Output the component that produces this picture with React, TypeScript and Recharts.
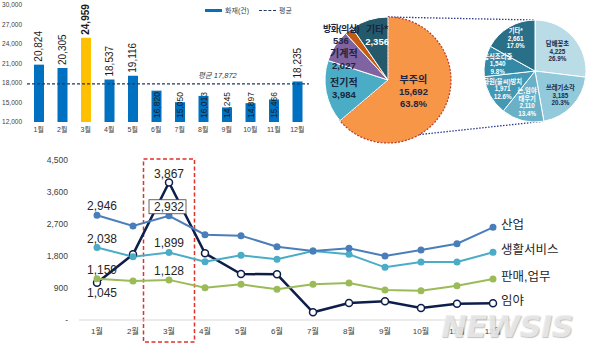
import React from 'react';
import {
  BarChart, Bar, Cell, XAxis, YAxis, ReferenceLine, LabelList,
  PieChart, Pie, LineChart, Line, ReferenceArea,
} from 'recharts';

const FONT = "'Liberation Sans', 'Noto Sans CJK KR', sans-serif";

// monthly fires (bar chart)
const months = ['1월', '2월', '3월', '4월', '5월', '6월', '7월', '8월', '9월', '10월', '11월', '12월'];
const fires = [20824, 20305, 24959, 18537, 19116, 16820, 15050, 16013, 14245, 14897, 15466, 18235];
const avgFires = 17872;
const peakMonth = '3월';
const fireTicks = [12000, 15000, 18000, 21000, 24000, 27000, 30000];

// causes (big pie) and breakdown of 부주의 (small pie)
const causeNames = ['부주의', '전기적', '기계적', '방화(의심)', '기타*'];
const causeValues = [15692, 3984, 2027, 536, 2356];
const carelessNames = ['담배꽁초', '쓰레기소각', '논,임야 태우기', '화원(불씨)방치', '음식조리중', '기타*'];
const carelessValues = [4225, 3185, 2110, 1971, 1540, 2661];

// fires by place (line chart)
const industry = [2946, 2644, 2932, 2400, 2372, 2060, 1940, 2015, 1800, 1969, 2147, 2606];
const living = [2038, 1781, 1899, 1641, 1819, 1706, 1940, 1847, 1481, 1631, 1631, 1903];
const sales = [1159, 1097, 1128, 909, 1003, 862, 1003, 1040, 844, 825, 966, 1153];
const forest = [1045, 1847, 3867, 1875, 1294, 1284, 216, 478, 525, 337, 459, 469];
const lineTicks = [0, 900, 1800, 2700, 3600, 4500];

const barData = months.map((m, i) => ({ month: m, fires: fires[i] }));
const causeData = causeNames.map((n, i) => ({ name: n, value: causeValues[i] }));
const carelessData = carelessNames.map((n, i) => ({ name: n, value: carelessValues[i] }));
const lineData = months.map((m, i) => ({
  month: m, industry: industry[i], living: living[i], sales: sales[i], forest: forest[i],
}));

const fmt = (v: number) => Number(v).toLocaleString('en-US');
const RAD = Math.PI / 180;

// pie geometry / styling
const pie1 = { cx: 98, cy: 80, r: 63 };
const pie2 = { cx: 245, cy: 71, r: 51 };
const causeColors = ['#F79646', '#4BACC6', '#8064A2', '#C55A11', '#23596B'];
const causeLabelR = [28, 45, 49, 58, 47];
const causeLabelDx = [0, 0, -3, -11, 3];
const causeLabelDy = [0, 0, 6, 0, 0];
const causeValueFill = ['#1c2540', '#1c2540', '#1c2540', '#1c2540', '#ffffff'];
const carelessColors = ['#B9DCE6', '#93CADB', '#6AB1C8', '#4398B4', '#3489A6', '#286F87'];
const carelessLabelR = [30, 35, 32, 37, 38, 38];
const carelessFill = ['#1c2a48', '#1c2a48', '#ffffff', '#ffffff', '#ffffff', '#ffffff'];

const onCircle = (p: { cx: number; cy: number; r: number }, deg: number) => ({
  x: p.cx + p.r * Math.sin(deg * RAD),
  y: p.cy - p.r * Math.cos(deg * RAD),
});

const renderFireLabel = (p: any) => {
  const { x, y, width, height, value, index } = p;
  const cx = x + width / 2;
  const above = value > avgFires;
  const ty = above ? y - 3 : y + height - 4;
  return (
    <text x={cx} y={ty} transform={`rotate(-90 ${cx} ${ty})`} textAnchor="start" dominantBaseline="central"
      fontSize={above ? 10 : 8.5} fontWeight={months[index] === peakMonth ? 'bold' : 'normal'}
      fill="#1b1b1b" fontFamily={FONT}>
      {fmt(value)}
    </text>
  );
};

const AvgLabel = (p: any) => {
  const vb = p.viewBox;
  if (!vb) return null;
  return (
    <text x={vb.x + vb.width * 0.675} y={vb.y - 6} textAnchor="middle" fontSize={7.5} fontStyle="italic"
      fill="#333" fontFamily={FONT}>
      평균 {fmt(avgFires)}
    </text>
  );
};

const renderCauseLabel = (p: any) => {
  const { cx, cy, midAngle, index, value, percent } = p;
  const r = causeLabelR[index];
  const x = cx + r * Math.cos(-midAngle * RAD) + causeLabelDx[index];
  const y = cy + r * Math.sin(-midAngle * RAD) + causeLabelDy[index];
  const lines = [causeNames[index], fmt(value)];
  if (index === 0) lines.push((percent * 100).toFixed(1) + '%');
  const lh = 12;
  const y0 = y - ((lines.length - 1) * lh) / 2;
  const small = index === 3;
  return (
    <g>
      {lines.map((l, i) => (
        <text key={i} x={x} y={y0 + i * lh} textAnchor="middle" dominantBaseline="central" fontWeight="bold"
          fontSize={i === 0 ? (small ? 9 : 10) : 9.5} letterSpacing={small && i === 0 ? -0.5 : 0}
          fill={i === 0 ? '#1c2540' : causeValueFill[index]} fontFamily={FONT}>
          {l}
        </text>
      ))}
    </g>
  );
};

const renderCarelessLabel = (p: any) => {
  const { cx, cy, midAngle, index, value, percent } = p;
  const r = carelessLabelR[index];
  const x = cx + r * Math.cos(-midAngle * RAD);
  const y = cy + r * Math.sin(-midAngle * RAD);
  const lines = [...carelessNames[index].split(' '), fmt(value), (percent * 100).toFixed(1) + '%'];
  const lh = 7.5;
  const y0 = y - ((lines.length - 1) * lh) / 2;
  return (
    <g>
      {lines.map((l, i) => (
        <text key={i} x={x} y={y0 + i * lh} textAnchor="middle" dominantBaseline="central" fontWeight="bold"
          fontSize={6.3} fill={carelessFill[index]} fontFamily={FONT}>
          {l}
        </text>
      ))}
    </g>
  );
};

const pointLabel = (name: string, firstBelow: boolean, boxed: boolean) => (p: any) => {
  const { x, y, value, index } = p;
  if (index === months.length - 1) {
    return (
      <text x={x + 8} y={y - 2} dominantBaseline="central" fontSize={12.5} fill="#262626" fontFamily={FONT}>
        {name}
      </text>
    );
  }
  if (index !== 0 && index !== 2) return null;
  const tx = index === 0 ? x + 5 : x;
  const ty = index === 0 && firstBelow ? y + 10 : y - 9;
  const text = (
    <text x={tx} y={ty} textAnchor="middle" dominantBaseline="central" fontSize={12} fill="#262626" fontFamily={FONT}>
      {fmt(value)}
    </text>
  );
  if (boxed && index === 2) {
    return (
      <g>
        <rect x={tx - 20} y={ty - 7} width={37} height={14} fill="#fff" stroke="#404040" strokeWidth={0.8} />
        {text}
      </g>
    );
  }
  return text;
};

const PeakBox = (p: any) => (
  <rect x={p.x + p.width / 2 - 25.5} y={p.y - 1} width={51} height={p.height + 23}
    fill="none" stroke="#E0312B" strokeWidth={1.5} strokeDasharray="4 2.5" />
);

export default function App() {
  const t1 = onCircle(pie1, 0);
  const t2 = onCircle(pie2, 0);
  const b1 = onCircle(pie1, 150);
  const b2 = onCircle(pie2, 170);
  return (
    <div style={{ position: 'absolute', left: 0, top: 0, width: 591, height: 353, background: '#fff', fontFamily: FONT, overflow: 'hidden' }}>
      <div style={{ position: 'absolute', left: 0, top: 0 }}>
        <BarChart width={312} height={140} data={barData} margin={{ top: 5, right: 3, left: 0, bottom: 0 }}>
          <XAxis dataKey="month" height={18} axisLine={false} tickLine={false} tickSize={0} tickMargin={5}
            tick={{ fontSize: 7, fill: '#404040', fontFamily: FONT }} interval={0} />
          <YAxis width={27} domain={[12000, 30000]} ticks={fireTicks} axisLine={false} tickLine={false}
            tickSize={0} tickMargin={5} tickFormatter={fmt} tick={{ fontSize: 6.5, fill: '#404040', fontFamily: FONT }} />
          <Bar dataKey="fires" barSize={10} isAnimationActive={false}>
            {barData.map((d) => (
              <Cell key={d.month} fill={d.month === peakMonth ? '#FFC000' : '#0070C0'} />
            ))}
            <LabelList dataKey="fires" content={renderFireLabel} />
          </Bar>
          <ReferenceLine y={avgFires} stroke="#1F3864" strokeWidth={1.2} strokeDasharray="3 2" label={<AvgLabel />} />
        </BarChart>
      </div>

      <div style={{ position: 'absolute', left: 205, top: 5, display: 'flex', alignItems: 'center', fontSize: 7, color: '#404040' }}>
        <span style={{ display: 'inline-block', width: 17, height: 3, background: '#0070C0', marginRight: 3 }} />
        화재(건)
        <span style={{ display: 'inline-block', width: 17, borderTop: '1.5px dashed #1F3864', margin: '0 3px 0 10px' }} />
        평균
      </div>

      <div style={{ position: 'absolute', left: 290, top: 0 }}>
        <PieChart width={301} height={145} margin={{ top: 0, right: 0, bottom: 0, left: 0 }}>
          <line x1={t1.x} y1={t1.y} x2={t2.x} y2={t2.y} stroke="#2B3A8C" strokeWidth={1.3} strokeDasharray="1.5 1.5" />
          <line x1={b1.x} y1={b1.y} x2={b2.x} y2={b2.y} stroke="#2B3A8C" strokeWidth={1.3} strokeDasharray="1.5 1.5" />
          <Pie data={causeData} dataKey="value" nameKey="name" cx={pie1.cx} cy={pie1.cy} outerRadius={pie1.r}
            startAngle={90} endAngle={-270} label={renderCauseLabel} labelLine={false} isAnimationActive={false}>
            {causeData.map((d, i) => (
              <Cell key={d.name} fill={causeColors[i]} stroke={i === 0 ? '#C0392B' : '#ffffff'}
                strokeWidth={i === 0 ? 1.2 : 1} strokeDasharray={i === 0 ? '2 1.5' : undefined} />
            ))}
          </Pie>
          <Pie data={carelessData} dataKey="value" nameKey="name" cx={pie2.cx} cy={pie2.cy} outerRadius={pie2.r}
            startAngle={90} endAngle={-270} label={renderCarelessLabel} labelLine={false} isAnimationActive={false}>
            {carelessData.map((d, i) => (
              <Cell key={d.name} fill={carelessColors[i]} stroke="#ffffff" strokeWidth={1} />
            ))}
          </Pie>
        </PieChart>
      </div>

      <div style={{ position: 'absolute', left: 0, top: 140 }}>
        <LineChart width={591} height={213} data={lineData} margin={{ top: 20, right: 80, left: 0, bottom: 13 }}>
          <XAxis dataKey="month" height={20} padding={{ left: 18, right: 18 }} stroke="#d9d9d9" tickLine={false}
            tickSize={0} tickMargin={8} interval={0} tick={{ fontSize: 8, fill: '#404040', fontFamily: FONT }} />
          <YAxis width={79} domain={[0, 4500]} ticks={lineTicks} axisLine={false} tickLine={false} tickSize={0}
            tickMargin={11} tickFormatter={(v: number) => (v === 0 ? '-' : fmt(v))}
            tick={{ fontSize: 8.5, fill: '#404040', fontFamily: FONT }} />
          <ReferenceArea x1={peakMonth} x2={peakMonth} ifOverflow="visible" shape={<PeakBox />} />
          <Line dataKey="forest" stroke="#0E1E4A" strokeWidth={2.5} isAnimationActive={false}
            dot={{ r: 3.5, fill: '#fff', stroke: '#0E1E4A', strokeWidth: 1.5 }}>
            <LabelList dataKey="forest" content={pointLabel('임야', true, false)} />
          </Line>
          <Line dataKey="sales" stroke="#9BBB59" strokeWidth={2} isAnimationActive={false}
            dot={{ r: 2.5, fill: '#9BBB59', stroke: '#9BBB59' }}>
            <LabelList dataKey="sales" content={pointLabel('판매,업무', false, false)} />
          </Line>
          <Line dataKey="living" stroke="#4BACC6" strokeWidth={2} isAnimationActive={false}
            dot={{ r: 2.5, fill: '#4BACC6', stroke: '#4BACC6' }}>
            <LabelList dataKey="living" content={pointLabel('생활서비스', false, false)} />
          </Line>
          <Line dataKey="industry" stroke="#4A7EBB" strokeWidth={2} isAnimationActive={false}
            dot={{ r: 2.5, fill: '#4A7EBB', stroke: '#4A7EBB' }}>
            <LabelList dataKey="industry" content={pointLabel('산업', false, true)} />
          </Line>
        </LineChart>
      </div>

      <div style={{
        position: 'absolute', left: 441, top: 311, fontSize: 31, lineHeight: 1, fontWeight: 'bold', fontStyle: 'italic',
        fontFamily: "'DejaVu Sans', sans-serif", letterSpacing: -1, color: 'rgba(235,235,235,0.85)',
        textShadow: '1px 1px 1px rgba(120,120,120,0.45)', pointerEvents: 'none',
      }}>
        NEWSIS
      </div>
    </div>
  );
}
